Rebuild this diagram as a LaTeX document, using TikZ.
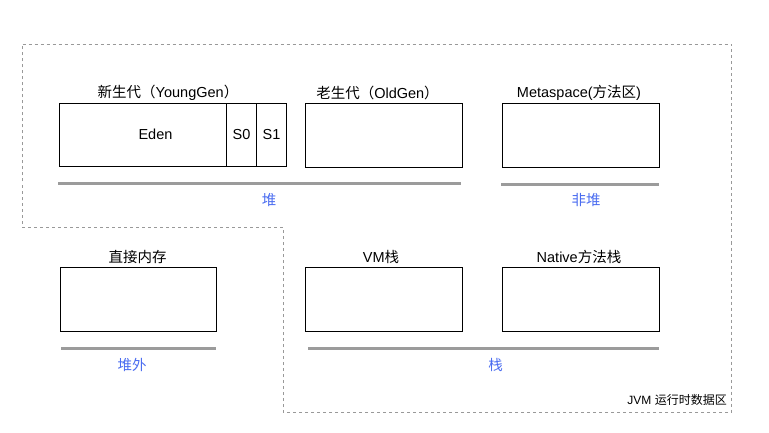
\documentclass[tikz,border=0pt]{standalone}
\usepackage{fontspec}
\setmainfont{Liberation Sans}
\newfontfamily\cjk{Noto Sans CJK SC}
\usetikzlibrary{calc}
\definecolor{lbl}{HTML}{4A6CF0}
\definecolor{grayline}{HTML}{9B9B9B}
\definecolor{dashc}{HTML}{999999}
\begin{document}
\begin{tikzpicture}[x=1pt,y=-1pt,
  box/.style={draw=black,line width=1pt,fill=white},
  title/.style={font=\fontsize{14.5}{16}\selectfont,text=black,inner sep=0pt,anchor=center},
  group/.style={font=\fontsize{14.5}{16}\selectfont\cjk,text=lbl,inner sep=0pt,anchor=center},
  bar/.style={draw=grayline,line width=2.5pt},
  border/.style={draw=dashc,line width=1pt,dash pattern=on 3pt off 3pt}]
\useasboundingbox (0,0) rectangle (769,433);
% outer dashed region
\coordinate (b1) at (22.5,44.5);
\coordinate (b2) at (731.5,44.5);
\coordinate (b3) at (731.5,412);
\coordinate (b4) at (283,412);
\coordinate (b5) at (283,227.5);
\coordinate (b6) at (22.5,227.5);
\draw[border] (b1) -- (b2) -- (b3) -- (b4) -- (b5) -- (b6) -- cycle;
\node[anchor=base east,inner sep=0pt,font=\fontsize{12}{13}\selectfont] (jvm) at (727,404.5) {JVM {\cjk 运行时数据区}};
% top row boxes
\draw[box] (59.5,103.5) rectangle (286.5,167) coordinate (young);
\node (eden) at (155.5,134.5) [title] {Eden};
\draw[box] (226.5,103.5) -- (226.5,167);
\draw[box] (256.5,103.5) -- (256.5,167);
\node (s0) at (241.5,134.5) [title] {S0};
\node (s1) at (271.5,134.5) [title] {S1};
\node[title] (ylab) at (168,93) {{\cjk 新生代（}YoungGen{\cjk ）}};
\node[box,minimum width=157pt,minimum height=63.5pt,anchor=north west,inner sep=0pt] (old) at (304.5,103.5) {};
\node[title] (olab) at (377.5,93) {{\cjk 老生代（}OldGen{\cjk ）}};
\node[box,minimum width=157pt,minimum height=63.5pt,anchor=north west,inner sep=0pt] (meta) at (501.5,103.5) {};
\node[title] (mlab) at (579,93) {Metaspace({\cjk 方法区})};
% bars
\coordinate (h1) at (58,183.5);
\coordinate (h2) at (461,183.5);
\draw[bar] (h1) -- (h2);
\node[group] (heap) at (269,200.5) {堆};
\coordinate (n1) at (501,184.5);
\coordinate (n2) at (658.5,184.5);
\draw[bar] (n1) -- (n2);
\node[group] (nonheap) at (586,200.5) {非堆};
% bottom row
\node[box,minimum width=156.5pt,minimum height=64pt,anchor=north west,inner sep=0pt] (direct) at (59.5,266.5) {};
\node[title] (dlab) at (137.5,256.5) {\cjk 直接内存};
\node[box,minimum width=157pt,minimum height=64pt,anchor=north west,inner sep=0pt] (vm) at (304.5,266.5) {};
\node[title] (vlab) at (381,256.5) {VM{\cjk 栈}};
\node[box,minimum width=157pt,minimum height=64pt,anchor=north west,inner sep=0pt] (native) at (501.5,266.5) {};
\node[title] (nlab) at (579,256.5) {Native{\cjk 方法栈}};
\coordinate (d1) at (61,348.5);
\coordinate (d2) at (216,348.5);
\draw[bar] (d1) -- (d2);
\node[group] (offheap) at (132,364.5) {堆外};
\coordinate (s1a) at (308,348.5);
\coordinate (s1b) at (659,348.5);
\draw[bar] (s1a) -- (s1b);
\node[group] (stack) at (495.5,364.5) {栈};
\end{tikzpicture}
\end{document}
